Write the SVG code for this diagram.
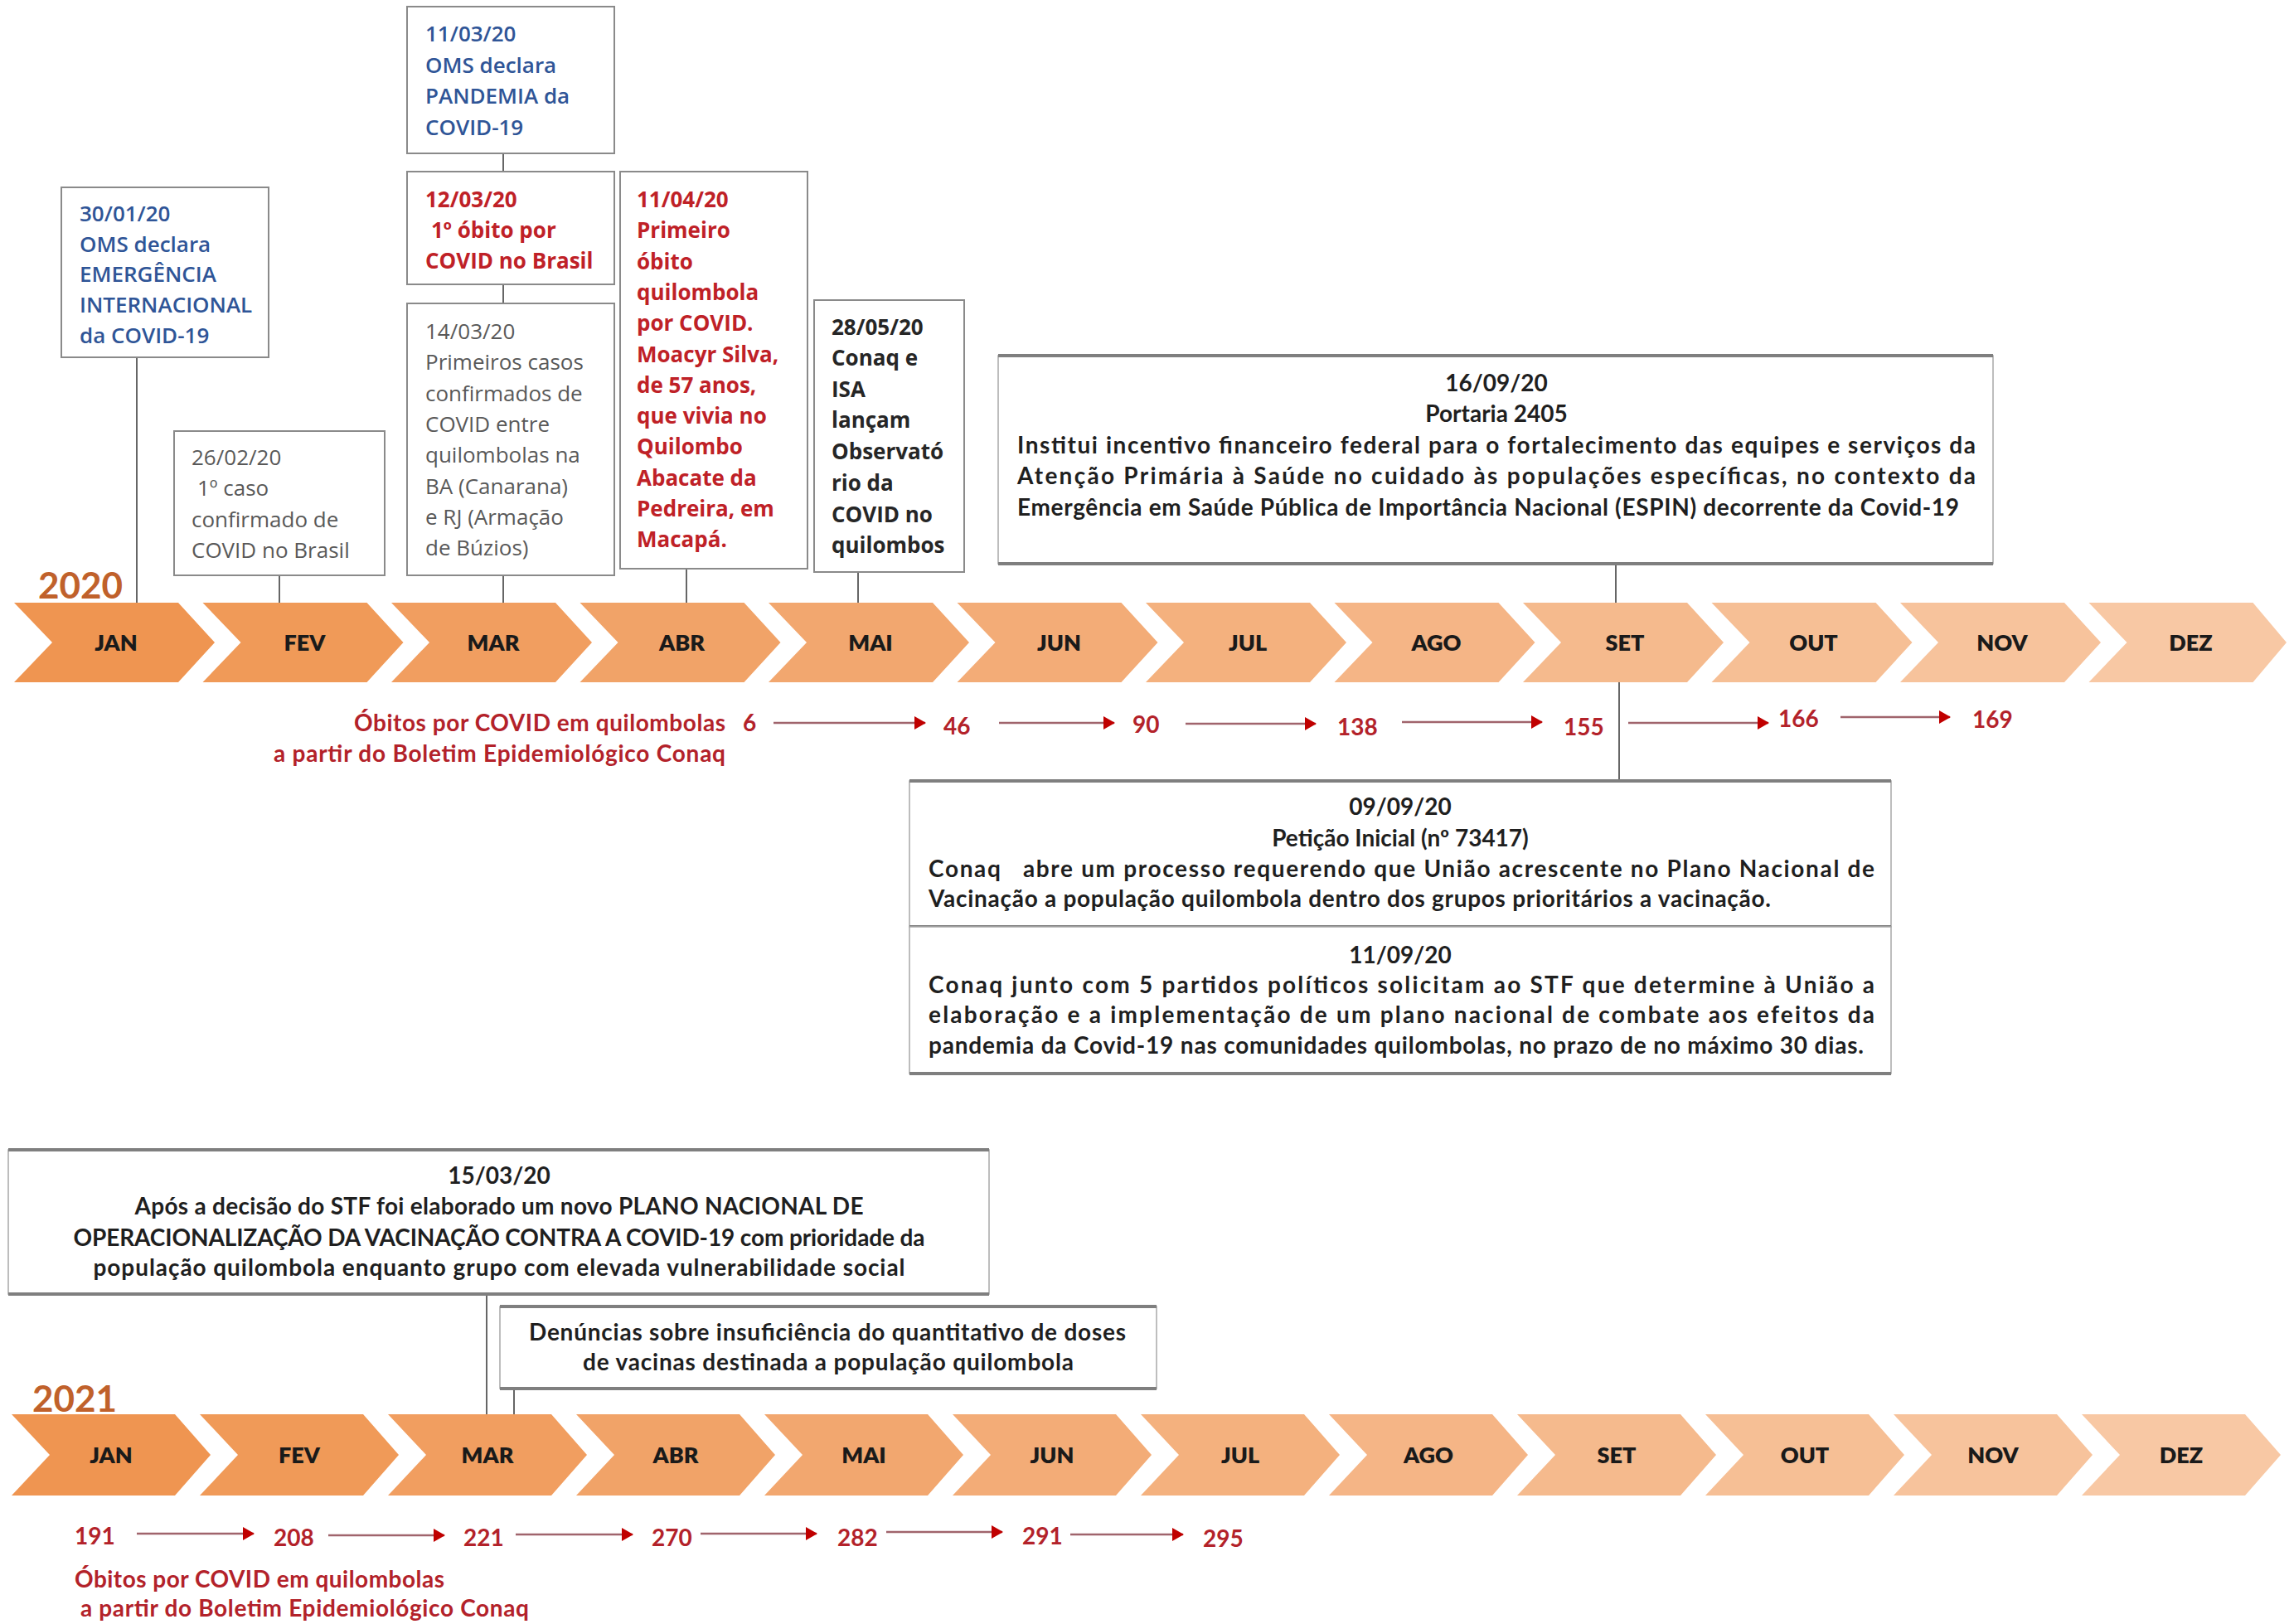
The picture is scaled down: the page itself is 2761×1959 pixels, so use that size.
<svg xmlns="http://www.w3.org/2000/svg" width="2761" height="1959" viewBox="0 0 2761 1959">
<style>
.bg{fill:#ffffff}
.box{fill:#ffffff;stroke:#8a8a8a;stroke-width:2}
.bbox{fill:#ffffff;stroke:#a8a8a8;stroke-width:1.5}
.edge{stroke:#7f7f7f;stroke-width:4}
.con{stroke:#666666;stroke-width:2;fill:none}
.seg{font-family:"Open Sans","Noto Sans","Liberation Sans",sans-serif;font-size:26px}
.blue{fill:#2f5597;font-weight:600}
.red{fill:#bf2127;font-weight:700}
.gray{fill:#595959;font-weight:500}
.dark{fill:#262626;font-weight:700}
.cal{font-family:Lato,"Liberation Sans",sans-serif;font-weight:700;font-size:28px;fill:#1f1f1f}
.ctr{text-anchor:middle}
.mon{font-family:Lato,"Liberation Sans",sans-serif;font-weight:800;font-size:27px;fill:#1a1a1a;text-anchor:middle}
.yr{font-family:Lato,"Liberation Sans",sans-serif;font-weight:700;font-size:44px;fill:#c0612b}
.dth{font-family:Lato,"Liberation Sans",sans-serif;font-weight:700;font-size:28px;fill:#b3222a}
.arr{stroke:#a0646c;stroke-width:2.5;fill:none;marker-end:url(#ah)}
</style>
<defs>
<marker id="ah" markerUnits="userSpaceOnUse" markerWidth="14" markerHeight="16" refX="13" refY="8" orient="auto">
<path d="M0,0 L14,8 L0,16 Z" fill="#c00000"/>
</marker>
</defs>
<rect class="bg" x="0" y="0" width="2761" height="1959"/>

<g id="connectors">
<line class="con" x1="165" y1="431" x2="165" y2="727"/>
<line class="con" x1="337" y1="694" x2="337" y2="727"/>
<line class="con" x1="607" y1="185" x2="607" y2="207"/>
<line class="con" x1="607" y1="343" x2="607" y2="366"/>
<line class="con" x1="607" y1="694" x2="607" y2="727"/>
<line class="con" x1="828" y1="686" x2="828" y2="727"/>
<line class="con" x1="1035" y1="690" x2="1035" y2="727"/>
<line class="con" x1="1949" y1="680" x2="1949" y2="727"/>
<line class="con" x1="1953" y1="823" x2="1953" y2="942"/>
<line class="con" x1="587" y1="1561" x2="587" y2="1706"/>
<line class="con" x1="620" y1="1675" x2="620" y2="1706"/>
<line class="arr" x1="933" y1="872" x2="1116" y2="872"/>
<line class="arr" x1="1205" y1="872" x2="1344" y2="872"/>
<line class="arr" x1="1430" y1="873" x2="1587" y2="873"/>
<line class="arr" x1="1691" y1="871" x2="1860" y2="871"/>
<line class="arr" x1="1964" y1="872" x2="2133" y2="872"/>
<line class="arr" x1="2220" y1="865" x2="2352" y2="865"/>
<line class="arr" x1="165" y1="1850" x2="306" y2="1850"/>
<line class="arr" x1="396" y1="1852" x2="536" y2="1852"/>
<line class="arr" x1="622" y1="1851" x2="763" y2="1851"/>
<line class="arr" x1="845" y1="1850" x2="985" y2="1850"/>
<line class="arr" x1="1069" y1="1848" x2="1209" y2="1848"/>
<line class="arr" x1="1291" y1="1851" x2="1427" y2="1851"/>
</g>

<g id="timeline-2020">
<text class="yr" x="46" y="722">2020</text>
<g id="m20-jan"><path d="M17,727 H215 L259,775 L215,823 H17 L63,775 Z" fill="#EF9551"/><text class="mon" x="140" y="785">JAN</text></g>
<g id="m20-fev"><path d="M244.5,727 H442.5 L486.5,775 L442.5,823 H244.5 L290.5,775 Z" fill="#F09A58"/><text class="mon" x="367.5" y="785">FEV</text></g>
<g id="m20-mar"><path d="M472,727 H670 L714,775 L670,823 H472 L518,775 Z" fill="#F19E60"/><text class="mon" x="595" y="785">MAR</text></g>
<g id="m20-abr"><path d="M699.5,727 H897.5 L941.5,775 L897.5,823 H699.5 L745.5,775 Z" fill="#F1A368"/><text class="mon" x="822.5" y="785">ABR</text></g>
<g id="m20-mai"><path d="M927,727 H1125 L1169,775 L1125,823 H927 L973,775 Z" fill="#F2A76F"/><text class="mon" x="1050" y="785">MAI</text></g>
<g id="m20-jun"><path d="M1154.5,727 H1352.5 L1396.5,775 L1352.5,823 H1154.5 L1200.5,775 Z" fill="#F3AC77"/><text class="mon" x="1277.5" y="785">JUN</text></g>
<g id="m20-jul"><path d="M1382,727 H1580 L1624,775 L1580,823 H1382 L1428,775 Z" fill="#F4B17E"/><text class="mon" x="1505" y="785">JUL</text></g>
<g id="m20-ago"><path d="M1609.5,727 H1807.5 L1851.5,775 L1807.5,823 H1609.5 L1655.5,775 Z" fill="#F5B586"/><text class="mon" x="1732.5" y="785">AGO</text></g>
<g id="m20-set"><path d="M1837,727 H2035 L2079,775 L2035,823 H1837 L1883,775 Z" fill="#F5BA8D"/><text class="mon" x="1960" y="785">SET</text></g>
<g id="m20-out"><path d="M2064.5,727 H2262.5 L2306.5,775 L2262.5,823 H2064.5 L2110.5,775 Z" fill="#F6BF95"/><text class="mon" x="2187.5" y="785">OUT</text></g>
<g id="m20-nov"><path d="M2292,727 H2490 L2534,775 L2490,823 H2292 L2338,775 Z" fill="#F7C39C"/><text class="mon" x="2415" y="785">NOV</text></g>
<g id="m20-dez"><path d="M2519.5,727 H2717.5 L2758,775 L2717.5,823 H2519.5 L2565.5,775 Z" fill="#F8C8A4"/><text class="mon" x="2642.5" y="785">DEZ</text></g>
</g>

<g id="timeline-2021">
<text class="yr" x="39" y="1703">2021</text>
<g id="m21-jan"><path d="M14,1706 H211 L254,1755 L211,1804 H14 L60,1755 Z" fill="#EF9551"/><text class="mon" x="134" y="1765">JAN</text></g>
<g id="m21-fev"><path d="M241,1706 H438 L481,1755 L438,1804 H241 L287,1755 Z" fill="#F09A58"/><text class="mon" x="361" y="1765">FEV</text></g>
<g id="m21-mar"><path d="M468,1706 H665 L708,1755 L665,1804 H468 L514,1755 Z" fill="#F19E60"/><text class="mon" x="588" y="1765">MAR</text></g>
<g id="m21-abr"><path d="M695,1706 H892 L935,1755 L892,1804 H695 L741,1755 Z" fill="#F1A368"/><text class="mon" x="815" y="1765">ABR</text></g>
<g id="m21-mai"><path d="M922,1706 H1119 L1162,1755 L1119,1804 H922 L968,1755 Z" fill="#F2A76F"/><text class="mon" x="1042" y="1765">MAI</text></g>
<g id="m21-jun"><path d="M1149,1706 H1346 L1389,1755 L1346,1804 H1149 L1195,1755 Z" fill="#F3AC77"/><text class="mon" x="1269" y="1765">JUN</text></g>
<g id="m21-jul"><path d="M1376,1706 H1573 L1616,1755 L1573,1804 H1376 L1422,1755 Z" fill="#F4B17E"/><text class="mon" x="1496" y="1765">JUL</text></g>
<g id="m21-ago"><path d="M1603,1706 H1800 L1843,1755 L1800,1804 H1603 L1649,1755 Z" fill="#F5B586"/><text class="mon" x="1723" y="1765">AGO</text></g>
<g id="m21-set"><path d="M1830,1706 H2027 L2070,1755 L2027,1804 H1830 L1876,1755 Z" fill="#F5BA8D"/><text class="mon" x="1950" y="1765">SET</text></g>
<g id="m21-out"><path d="M2057,1706 H2254 L2297,1755 L2254,1804 H2057 L2103,1755 Z" fill="#F6BF95"/><text class="mon" x="2177" y="1765">OUT</text></g>
<g id="m21-nov"><path d="M2284,1706 H2481 L2524,1755 L2481,1804 H2284 L2330,1755 Z" fill="#F7C39C"/><text class="mon" x="2404" y="1765">NOV</text></g>
<g id="m21-dez"><path d="M2511,1706 H2708 L2751,1755 L2708,1804 H2511 L2557,1755 Z" fill="#F8C8A4"/><text class="mon" x="2631" y="1765">DEZ</text></g>
</g>

<g id="box-300120">
<rect class="box" x="74" y="226" width="250" height="205"/>
<text class="seg blue"><tspan x="96" y="267">30/01/20</tspan><tspan x="96" y="304">OMS declara</tspan><tspan x="96" y="340">EMERGÊNCIA</tspan><tspan x="96" y="377">INTERNACIONAL</tspan><tspan x="96" y="414">da COVID-19</tspan></text>
</g>
<g id="box-260220">
<rect class="box" x="210" y="520" width="254" height="174"/>
<text class="seg gray"><tspan x="231" y="561">26/02/20</tspan><tspan x="238" y="598">1º caso</tspan><tspan x="231" y="636">confirmado de</tspan><tspan x="231" y="673">COVID no Brasil</tspan></text>
</g>
<g id="box-110320">
<rect class="box" x="491" y="8" width="250" height="177"/>
<text class="seg blue"><tspan x="513" y="50">11/03/20</tspan><tspan x="513" y="88">OMS declara</tspan><tspan x="513" y="125">PANDEMIA da</tspan><tspan x="513" y="163">COVID-19</tspan></text>
</g>
<g id="box-120320">
<rect class="box" x="491" y="207" width="250" height="136"/>
<text class="seg red"><tspan x="513" y="250">12/03/20</tspan><tspan x="520" y="287">1º óbito por</tspan><tspan x="513" y="324">COVID no Brasil</tspan></text>
</g>
<g id="box-140320">
<rect class="box" x="491" y="366" width="250" height="328"/>
<text class="seg gray"><tspan x="513" y="409">14/03/20</tspan><tspan x="513" y="446">Primeiros casos</tspan><tspan x="513" y="484">confirmados de</tspan><tspan x="513" y="521">COVID entre</tspan><tspan x="513" y="558">quilombolas na</tspan><tspan x="513" y="596">BA (Canarana)</tspan><tspan x="513" y="633">e RJ (Armação</tspan><tspan x="513" y="670">de Búzios)</tspan></text>
</g>
<g id="box-110420">
<rect class="box" x="748" y="207" width="226" height="479"/>
<text class="seg red"><tspan x="768" y="250">11/04/20</tspan><tspan x="768" y="287">Primeiro</tspan><tspan x="768" y="325">óbito</tspan><tspan x="768" y="362">quilombola</tspan><tspan x="768" y="399">por COVID.</tspan><tspan x="768" y="437">Moacyr Silva,</tspan><tspan x="768" y="474">de 57 anos,</tspan><tspan x="768" y="511">que vivia no</tspan><tspan x="768" y="548">Quilombo</tspan><tspan x="768" y="586">Abacate da</tspan><tspan x="768" y="623">Pedreira, em</tspan><tspan x="768" y="660">Macapá.</tspan></text>
</g>
<g id="box-280520">
<rect class="box" x="982" y="362" width="181" height="328"/>
<text class="seg dark"><tspan x="1003" y="404">28/05/20</tspan><tspan x="1003" y="441">Conaq e</tspan><tspan x="1003" y="479">ISA</tspan><tspan x="1003" y="516">lançam</tspan><tspan x="1003" y="554">Observató</tspan><tspan x="1003" y="592">rio da</tspan><tspan x="1003" y="630">COVID no</tspan><tspan x="1003" y="667">quilombos</tspan></text>
</g>

<g id="box-160920">
<rect class="bbox" x="1204" y="429" width="1200" height="251"/>
<line class="edge" x1="1204" y1="429" x2="2404" y2="429"/>
<line class="edge" x1="1204" y1="680" x2="2404" y2="680"/>
<text class="cal ctr" x="1805" y="472">16/09/20</text>
<text class="cal ctr" x="1805" y="509">Portaria 2405</text>
<text class="cal" x="1227" y="547" textLength="1156" lengthAdjust="spacing">Institui incentivo financeiro federal para o fortalecimento das equipes e serviços da</text>
<text class="cal" x="1227" y="584" textLength="1156" lengthAdjust="spacing">Atenção Primária à Saúde no cuidado às populações específicas, no contexto da</text>
<text class="cal" x="1227" y="622" textLength="1136" lengthAdjust="spacing">Emergência em Saúde Pública de Importância Nacional (ESPIN) decorrente da Covid-19</text>
</g>

<g id="box-090920">
<rect class="bbox" x="1097" y="942" width="1184" height="176"/>
<line class="edge" x1="1097" y1="942" x2="2281" y2="942"/>
<line class="edge" x1="1097" y1="1118" x2="2281" y2="1118"/>
<text class="cal ctr" x="1689" y="983">09/09/20</text>
<text class="cal ctr" x="1689" y="1021">Petição Inicial (nº 73417)</text>
<text class="cal" x="1120" y="1058" textLength="1141" lengthAdjust="spacing" xml:space="preserve">Conaq   abre um processo requerendo que União acrescente no Plano Nacional de</text>
<text class="cal" x="1120" y="1094" textLength="1016" lengthAdjust="spacing">Vacinação a população quilombola dentro dos grupos prioritários a vacinação.</text>
</g>

<g id="box-110920">
<rect class="bbox" x="1097" y="1118" width="1184" height="177"/>
<line class="edge" x1="1097" y1="1295" x2="2281" y2="1295"/>
<text class="cal ctr" x="1689" y="1162">11/09/20</text>
<text class="cal" x="1120" y="1198" textLength="1141" lengthAdjust="spacing">Conaq junto com 5 partidos políticos solicitam ao STF que determine à União a</text>
<text class="cal" x="1120" y="1234" textLength="1141" lengthAdjust="spacing">elaboração e a implementação de um plano nacional de combate aos efeitos da</text>
<text class="cal" x="1120" y="1271" textLength="1128" lengthAdjust="spacing">pandemia da Covid-19 nas comunidades quilombolas, no prazo de no máximo 30 dias.</text>
</g>

<g id="box-150320">
<rect class="bbox" x="10" y="1387" width="1183" height="174"/>
<line class="edge" x1="10" y1="1387" x2="1193" y2="1387"/>
<line class="edge" x1="10" y1="1561" x2="1193" y2="1561"/>
<text class="cal ctr" x="602" y="1428">15/03/20</text>
<text class="cal ctr" x="602" y="1465" textLength="879" lengthAdjust="spacing">Após a decisão do STF foi elaborado um novo PLANO NACIONAL DE</text>
<text class="cal ctr" x="602" y="1503" textLength="1027" lengthAdjust="spacing">OPERACIONALIZAÇÃO DA VACINAÇÃO CONTRA A COVID-19 com prioridade da</text>
<text class="cal ctr" x="602" y="1539" textLength="979" lengthAdjust="spacing">população quilombola enquanto grupo com elevada vulnerabilidade social</text>
</g>

<g id="box-denuncias">
<rect class="bbox" x="603" y="1576" width="792" height="99"/>
<line class="edge" x1="603" y1="1576" x2="1395" y2="1576"/>
<line class="edge" x1="603" y1="1675" x2="1395" y2="1675"/>
<text class="cal ctr" x="998" y="1617" textLength="720" lengthAdjust="spacing">Denúncias sobre insuficiência do quantitativo de doses</text>
<text class="cal ctr" x="999" y="1653" textLength="592" lengthAdjust="spacing">de vacinas destinada a população quilombola</text>
</g>

<g id="deaths-2020">
<text class="dth" x="875" y="882" text-anchor="end" textLength="448" lengthAdjust="spacing">Óbitos por COVID em quilombolas</text>
<text class="dth" x="896" y="882">6</text>
<text class="dth" x="875" y="919" text-anchor="end" textLength="545" lengthAdjust="spacing">a partir do Boletim Epidemiológico Conaq</text>
<text class="dth" x="1138" y="886">46</text>
<text class="dth" x="1366" y="884">90</text>
<text class="dth" x="1613" y="887">138</text>
<text class="dth" x="1886" y="887">155</text>
<text class="dth" x="2145" y="877">166</text>
<text class="dth" x="2379" y="878">169</text>
</g>

<g id="deaths-2021">
<text class="dth" x="90" y="1863">191</text>
<text class="dth" x="330" y="1865">208</text>
<text class="dth" x="559" y="1865">221</text>
<text class="dth" x="786" y="1865">270</text>
<text class="dth" x="1010" y="1865">282</text>
<text class="dth" x="1233" y="1863">291</text>
<text class="dth" x="1451" y="1866">295</text>
<text class="dth" x="90" y="1915" textLength="446" lengthAdjust="spacing">Óbitos por COVID em quilombolas</text>
<text class="dth" x="97" y="1950" textLength="541" lengthAdjust="spacing">a partir do Boletim Epidemiológico Conaq</text>
</g>
</svg>
